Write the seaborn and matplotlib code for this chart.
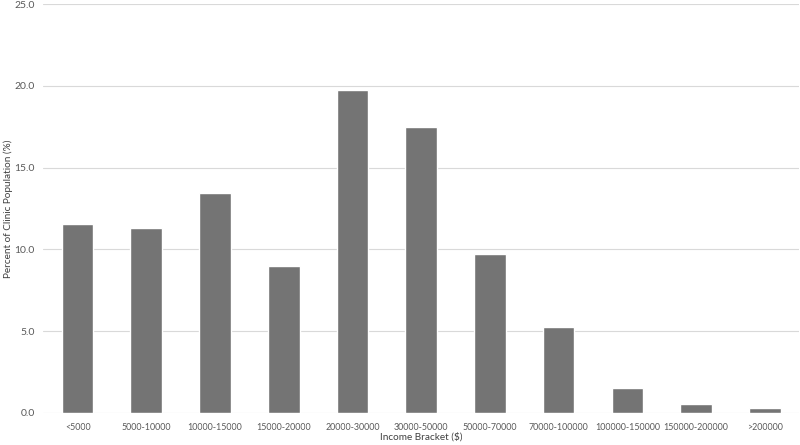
import pandas as pd
import seaborn as sns
import matplotlib.pyplot as plt
from matplotlib.ticker import FormatStrFormatter

# Income brackets and share of clinic population (%)
brackets = ["<5000", "5000-10000", "10000-15000", "15000-20000", "20000-30000",
            "30000-50000", "50000-70000", "70000-100000", "100000-150000",
            "150000-200000", ">200000"]
percent = [11.55, 11.3, 13.45, 9.0, 19.75, 17.5, 9.7, 5.25, 1.5, 0.55, 0.3]

df = pd.DataFrame({"bracket": brackets, "percent": percent})

sns.set_style("white")
plt.rcParams["font.family"] = ["Lato", "DejaVu Sans"]

fig = plt.figure(figsize=(8, 4.45), dpi=100)
ax = fig.add_axes([0.054, 0.072, 0.945, 0.919])

sns.barplot(data=df, x="bracket", y="percent", color="#747474",
            width=0.46, saturation=1, ax=ax)

ax.set_ylim(0, 25)
ax.set_yticks([0, 5, 10, 15, 20, 25])
ax.yaxis.set_major_formatter(FormatStrFormatter("%.1f"))
ax.grid(axis="y", color="#d9d9d9", linewidth=0.8)
ax.set_axisbelow(True)
for s in ax.spines.values():
    s.set_visible(False)

ax.tick_params(axis="both", length=0, labelcolor="#595959")
ax.tick_params(axis="y", pad=6, labelsize=7.5)
ax.tick_params(axis="x", pad=7, labelsize=6.4)
ax.set_xlabel("Income Bracket ($)", fontsize=7.2, color="#404040")
ax.set_ylabel("Percent of Clinic Population (%)", fontsize=7.2, color="#404040")
ax.xaxis.set_label_coords(0.5, -0.058)
ax.xaxis.label.set_va("center")
ax.yaxis.set_label_coords(-0.046, 0.5)
ax.yaxis.label.set_va("center")

fig.savefig("out.png", dpi=100)
